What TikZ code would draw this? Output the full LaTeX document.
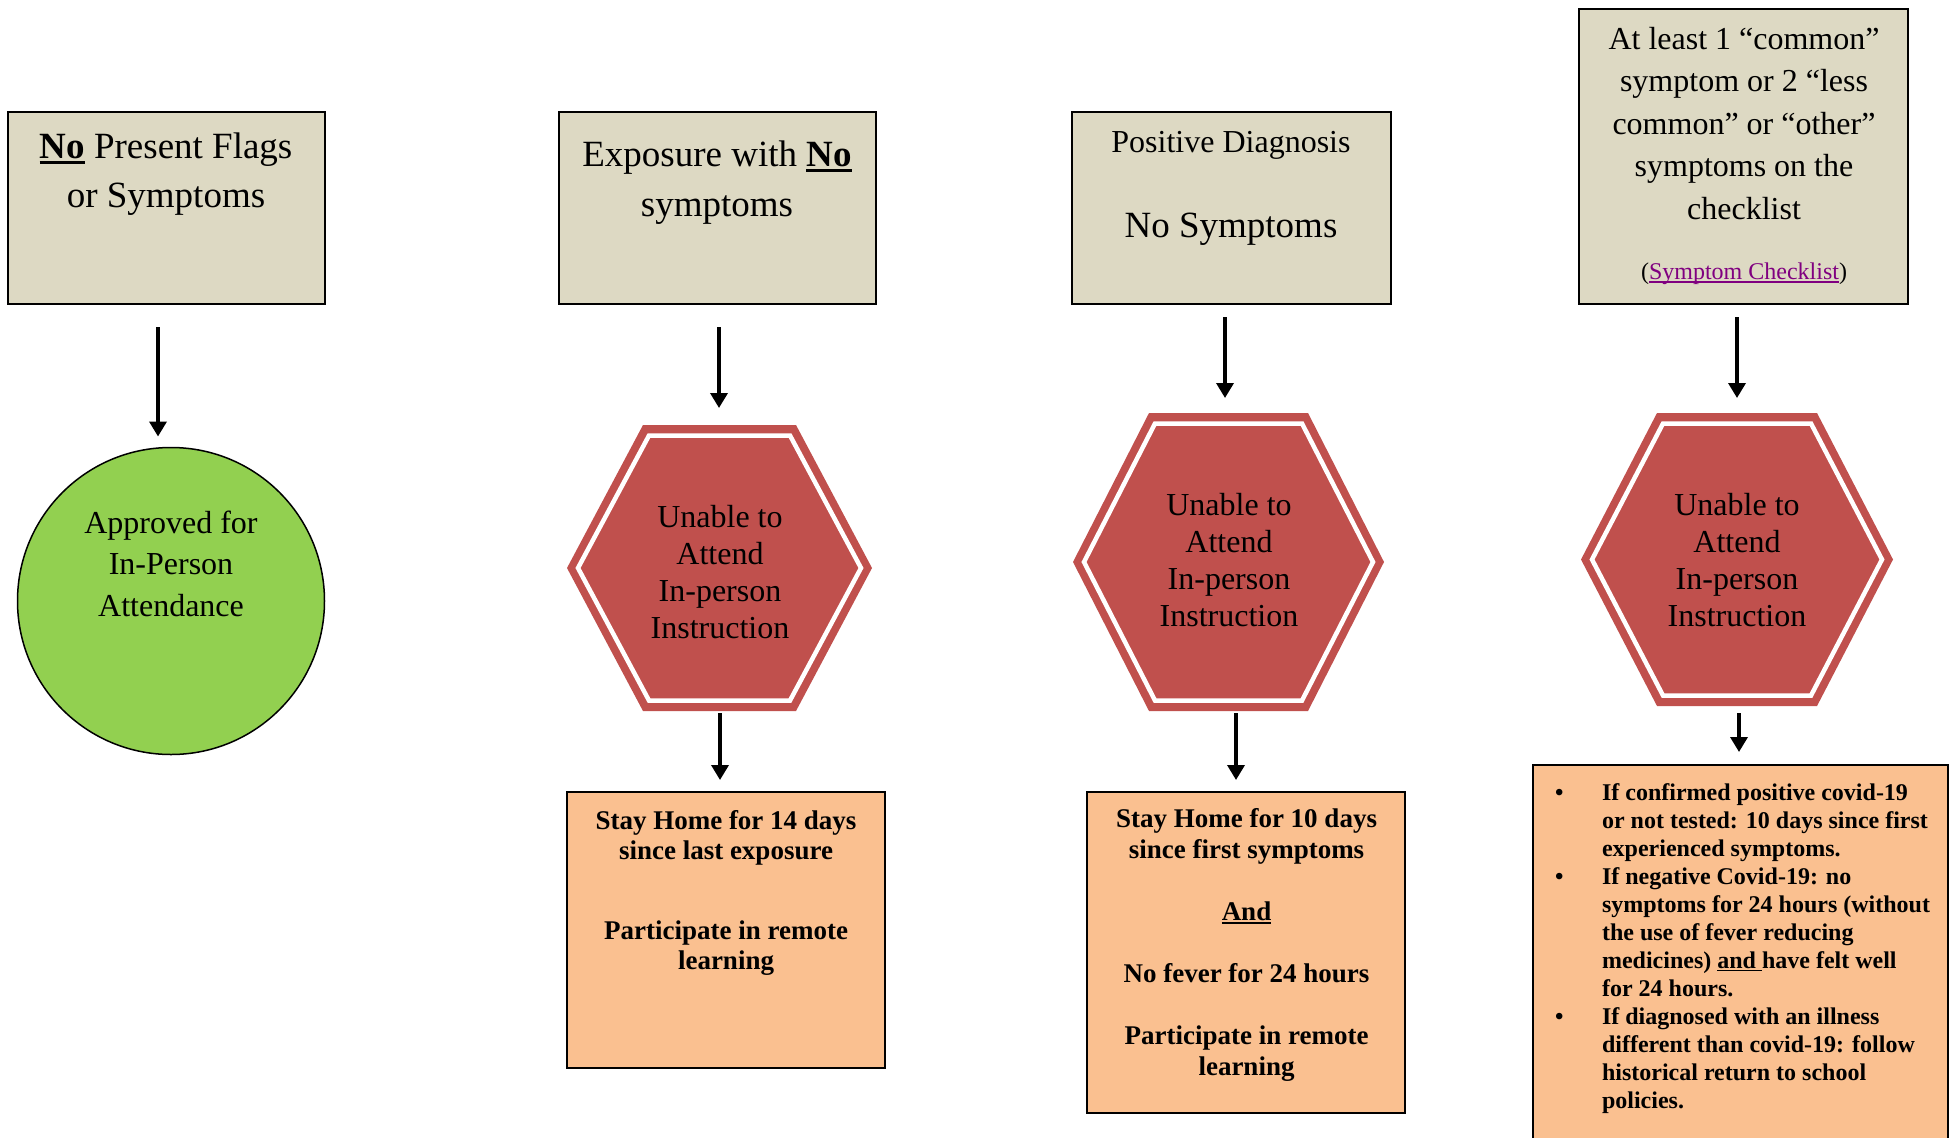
\documentclass[tikz,border=0pt]{standalone}
\usepackage{fontspec}
\setmainfont{Liberation Serif}
\usetikzlibrary{arrows.meta,backgrounds}
\definecolor{tanfill}{HTML}{DDD9C3}
\definecolor{orangefill}{HTML}{FAC090}
\definecolor{hexred}{HTML}{C0504D}
\definecolor{greenfill}{HTML}{92D050}
\definecolor{linkpurple}{HTML}{800080}
\newcommand\ulrule[1]{\setbox0=\hbox{#1}\rlap{\rule[-0.14em]{\wd0}{0.07em}}\box0\relax}
\newcommand\hexdraw[1]{%
  \fill[hexred] (#1.west) -- ([xshift=76pt]#1.north west) -- ([xshift=-76pt]#1.north east) -- (#1.east) -- ([xshift=-76pt]#1.south east) -- ([xshift=76pt]#1.south west) -- cycle;
  \draw[white,line width=4.5pt,line join=miter] ([xshift=11pt]#1.west) -- ([shift={(82pt,-10.5pt)}]#1.north west) -- ([shift={(-82pt,-10.5pt)}]#1.north east) -- ([xshift=-11pt]#1.east) -- ([shift={(-82pt,10.5pt)}]#1.south east) -- ([shift={(82pt,10.5pt)}]#1.south west) -- cycle;}
\begin{document}
\begin{tikzpicture}[x=1pt,y=-1pt,
  hdrbox/.style={rectangle,draw=black,line width=2pt,fill=tanfill,inner sep=0pt,outer sep=0pt},
  resbox/.style={rectangle,draw=black,line width=2pt,fill=orangefill,inner sep=0pt,outer sep=0pt},
  hexnode/.style={rectangle,inner sep=0pt,outer sep=0pt,align=center,font=\fontsize{32}{37}\selectfont},
  txt/.style={inner sep=0pt,outer sep=0pt,align=center},
  arr/.style={line width=3.5pt,-{Triangle[width=17pt,length=15pt]}}]
\useasboundingbox (0,0) rectangle (1950,1137);
\clip (0,0) rectangle (1950,1137);

% header boxes
\node[hdrbox,minimum width=317pt,minimum height=192pt] (b1) at (166.5,208) {};
\node[hdrbox,minimum width=317pt,minimum height=192pt] (b2) at (717.5,208) {};
\node[hdrbox,minimum width=319pt,minimum height=192pt] (b3) at (1231.5,208) {};
\node[hdrbox,minimum width=329pt,minimum height=295pt] (b4) at (1743.5,156.5) {};

\node[txt,font=\fontsize{37}{48.5}\selectfont] (t1) at (166,174) {\ulrule{\textbf{No}} Present Flags\\or Symptoms};
\node[txt,font=\fontsize{37}{50}\selectfont] (t2) at (717,182.5) {Exposure with \ulrule{\textbf{No}}\\symptoms};
\node[txt,font=\fontsize{32}{38}\selectfont] (t3a) at (1231,145.5) {Positive Diagnosis};
\node[txt,font=\fontsize{37}{44}\selectfont] (t3b) at (1231,229) {No Symptoms};
\node[txt,font=\fontsize{32}{42.5}\selectfont] (t4) at (1744,123.5) {At least 1 “common”\\symptom or 2 “less\\common” or “other”\\symptoms on the\\checklist};
\node[txt,font=\fontsize{24}{28}\selectfont] (t4l) at (1744,274) {({\color{linkpurple}\ulrule{Symptom Checklist}})};

% circle
\node[circle,draw=black,line width=1.5pt,fill=greenfill,minimum size=307pt,inner sep=0pt,outer sep=0pt] (c1) at (171,601) {};
\node[txt,font=\fontsize{32}{41.5}\selectfont] (ct) at (171,563.5) {Approved for\\In-Person\\Attendance};

% hexagons
\node[hexnode,minimum width=305pt,minimum height=286pt] (h2) at (719.5,568) {\raisebox{0pt}{}};
\node[txt,font=\fontsize{32}{37}\selectfont] (ht2) at (720,572.5) {Unable to\\Attend\\In-person\\Instruction};
\node[hexnode,minimum width=311pt,minimum height=298pt] (h3) at (1228.5,562) {};
\node[txt,font=\fontsize{32}{37}\selectfont] (ht3) at (1229,560) {Unable to\\Attend\\In-person\\Instruction};
\node[hexnode,minimum width=312pt,minimum height=293pt] (h4) at (1737,559.5) {};
\node[txt,font=\fontsize{32}{37}\selectfont] (ht4) at (1737,560.5) {Unable to\\Attend\\In-person\\Instruction};
\begin{scope}[on background layer]
\hexdraw{h2}
\hexdraw{h3}
\hexdraw{h4}
\end{scope}

% result boxes
\node[resbox,minimum width=318pt,minimum height=276pt] (r2) at (726,930) {};
\node[resbox,minimum width=318pt,minimum height=321pt] (r3) at (1246,952.5) {};
\node[resbox,minimum width=415pt,minimum height=385pt] (r4) at (1740.5,957.5) {};

\node[txt,font=\fontsize{27}{30}\selectfont\bfseries] (rt2) at (726,892.5) {Stay Home for 14 days\\since last exposure\\[50pt]Participate in remote\\learning};
\node[txt,font=\fontsize{27}{31}\selectfont\bfseries] (rt3) at (1246.5,944.5) {Stay Home for 10 days\\since first symptoms\\[31pt]\ulrule{And}\\[31pt]No fever for 24 hours\\[31pt]Participate in remote\\learning};
\node[txt,anchor=west,font=\fontsize{24}{28}\selectfont\bfseries] (rt4) at (1555,948.5) {%
\begin{tabular}{@{}p{47pt}@{}l@{}}
\textbullet & If confirmed positive covid-19\\
 & or not tested: 10 days since first\\
 & experienced symptoms.\\
\textbullet & If negative Covid-19: no\\
 & symptoms for 24 hours (without\\
 & the use of fever reducing\\
 & medicines) \ulrule{and\ }have felt well\\
 & for 24 hours.\\
\textbullet & If diagnosed with an illness\\
 & different than covid-19: follow\\
 & historical return to school\\
 & policies.
\end{tabular}};

% arrows
\draw[arr,shorten <=23pt,shorten >=11pt] ([xshift=-8.5pt]b1.south) -- ([xshift=-13pt]c1.north);
\draw[arr,shorten <=23pt,shorten >=17pt] ([xshift=1.5pt]b2.south) -- ([xshift=-0.5pt]h2.north);
\draw[arr,shorten <=13pt,shorten >=15pt] ([xshift=-6.5pt]b3.south) -- ([xshift=-3.5pt]h3.north);
\draw[arr,shorten <=13pt,shorten >=15pt] ([xshift=-6.5pt]b4.south) -- (h4.north);
\draw[arr,shorten <=2pt,shorten >=12pt] ([xshift=0.5pt]h2.south) -- ([xshift=-6pt]r2.north);
\draw[arr,shorten <=2pt,shorten >=12pt] ([xshift=7.5pt]h3.south) -- ([xshift=-10pt]r3.north);
\draw[arr,shorten <=7pt,shorten >=13pt] ([xshift=2pt]h4.south) -- ([xshift=-1.5pt]r4.north);
\end{tikzpicture}
\end{document}
